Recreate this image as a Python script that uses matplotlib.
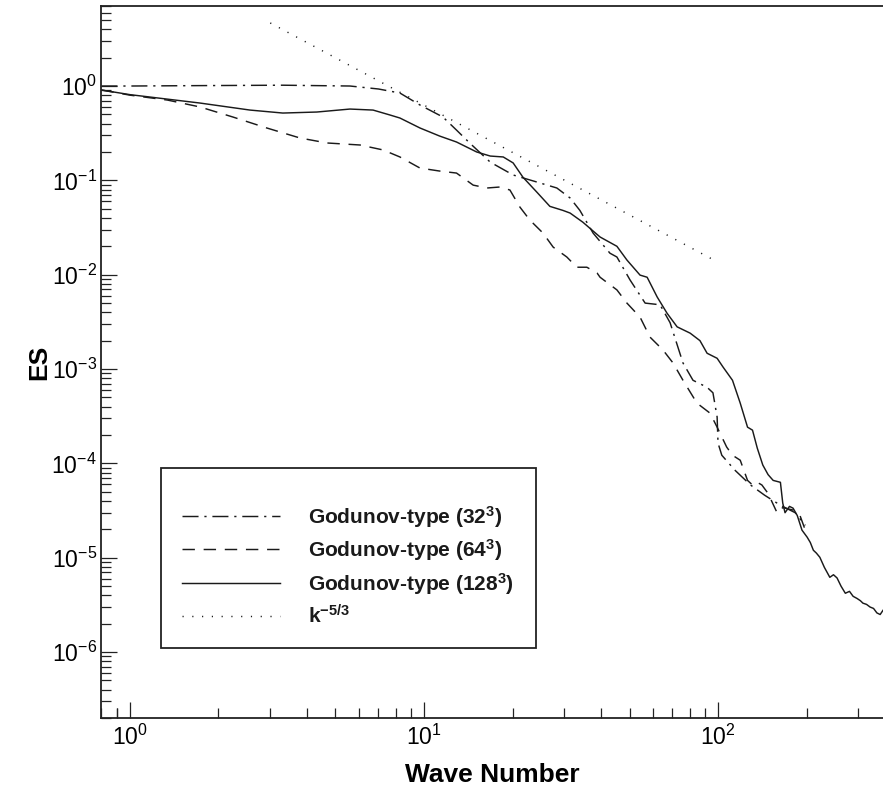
import matplotlib
matplotlib.use("Agg")
import matplotlib.pyplot as plt
from matplotlib.ticker import FixedLocator, FuncFormatter, NullFormatter
from matplotlib.patches import Rectangle
import numpy as np

plt.rcParams['font.family'] = ['Liberation Sans', 'DejaVu Sans']
plt.rcParams['mathtext.fontset'] = 'custom'
plt.rcParams['mathtext.rm'] = 'Liberation Sans'
plt.rcParams['mathtext.it'] = 'Liberation Sans:italic'
plt.rcParams['mathtext.bf'] = 'Liberation Sans:bold'

# ---- data ----
k32 = [0.8, 1.0, 1.73, 3.31, 5.6, 7.0, 8.28, 9.69, 11.6, 12.9, 14.3, 16.8, 20.1, 24.2,
       28.3, 31.4, 33.9, 37.6, 42.9, 45.3, 50.2, 56.5, 63.5, 68.7, 76.0, 82.2, 91.8,
       96.1, 99.3, 100, 103, 114, 129, 144, 163, 183, 198]
E32 = [1.0, 1.0, 1.01, 1.02, 1.0, 0.93, 0.843, 0.629, 0.469, 0.341, 0.249, 0.156, 0.114,
       0.096, 0.083, 0.065, 0.048, 0.0276, 0.0169, 0.0154, 0.0088, 0.0050, 0.0048, 0.0031,
       0.00116, 0.00076, 0.00064, 0.00056, 0.00031, 0.000164, 0.000122, 8.5e-5, 5.9e-5,
       4.6e-5, 3.6e-5, 3.0e-5, 2.2e-5]

k64 = [0.8, 1.0, 1.34, 1.73, 2.24, 2.92, 3.79, 4.68, 6.06, 7.26, 8.28, 9.69, 11.3, 12.9,
       14.7, 16.4, 18.1, 19.6, 21.2, 22.9, 25.4, 27.5, 30.6, 33.1, 35.8, 38.8, 39.7, 45.3,
       49.0, 54.3, 58.7, 65.0, 70.3, 76.0, 84.8, 93.9, 99.3, 107, 112, 119, 126, 131, 136,
       141, 148, 159, 166, 180, 190, 201]
E64 = [0.907, 0.80, 0.71, 0.60, 0.469, 0.359, 0.281, 0.249, 0.237, 0.210, 0.177, 0.135,
       0.1255, 0.1195, 0.089, 0.083, 0.085, 0.079, 0.052, 0.038, 0.0276, 0.0196, 0.0154,
       0.0120, 0.0120, 0.0104, 0.0094, 0.0069, 0.0050, 0.00355, 0.00218, 0.00159, 0.00116,
       0.00076, 0.000435, 0.000341, 0.000242, 0.000149, 0.000122, 0.000108, 6.6e-5, 5.9e-5,
       6.3e-5, 5.9e-5, 4.8e-5, 2.97e-5, 3.4e-5, 3.2e-5, 2.8e-5, 1.73e-5]

k128 = [0.8, 1.0, 1.17, 1.73, 2.56, 3.31, 4.32, 5.6, 6.71, 7.66, 8.28, 9.69, 11.3, 12.9,
        15.1, 16.8, 18.6, 20.1, 21.7, 24.2, 26.8, 29.7, 31.4, 34.7, 39.7, 45.3, 49.0, 54.3,
        57.4, 62.1, 67.1, 72.6, 80.4, 86.8, 91.8, 99.3, 104, 112, 119, 126, 131, 136, 142,
        148, 154, 163, 166, 169, 175, 180, 186, 193, 201, 206, 211, 216, 222, 230, 240, 247,
        254, 262, 271, 280, 288, 297, 305, 311, 320, 329, 338, 347, 356, 364]
E128 = [0.907, 0.81, 0.764, 0.660, 0.556, 0.517, 0.530, 0.570, 0.556, 0.493, 0.458, 0.359,
        0.295, 0.255, 0.200, 0.181, 0.177, 0.153, 0.108, 0.075, 0.053, 0.048, 0.045, 0.036,
        0.0251, 0.020, 0.0143, 0.0099, 0.0094, 0.0058, 0.0039, 0.0028, 0.0024, 0.0020,
        0.00147, 0.0013, 0.00105, 0.00076, 0.000435, 0.000242, 0.000225, 0.000145, 9.6e-5,
        7.6e-5, 6.6e-5, 6.3e-5, 3.8e-5, 3.0e-5, 3.5e-5, 3.35e-5, 2.8e-5, 1.96e-5, 1.65e-5,
        1.45e-5, 1.2e-5, 1.12e-5, 1.01e-5, 7.9e-6, 6.2e-6, 6.6e-6, 6.1e-6, 5.0e-6, 4.2e-6,
        4.4e-6, 3.9e-6, 3.7e-6, 3.5e-6, 3.3e-6, 3.2e-6, 3.0e-6, 2.9e-6, 2.6e-6, 2.5e-6, 2.77e-6]

k_ref = [3.0, 96.0]
E_ref = [4.66, 0.0145]

x_major = [1, 10, 100]
y_major = [1e-6, 1e-5, 1e-4, 1e-3, 1e-2, 1e-1, 1e0]

labels = [r'Godunov-type (32$^{\mathbf{3}}$)', r'Godunov-type (64$^{\mathbf{3}}$)',
          r'Godunov-type (128$^{\mathbf{3}}$)', r'k$^{\mathbf{-5/3}}$']

# ---- figure ----
fig = plt.figure(figsize=(8.83, 7.99), dpi=100)
ax = fig.add_axes([101/883, 1-718/799, 782/883, 712/799])

col = '#1a1a1a'
st_dd = (0, (11, 4, 1.5, 4))
st_da = (0, (8.5, 6))
st_dt = (0, (0.8, 5.9))
lw = 1.05
ax.plot(k32, E32, color=col, lw=lw, linestyle=st_dd)
ax.plot(k64, E64, color=col, lw=lw, linestyle=st_da)
ax.plot(k128, E128, color=col, lw=lw, linestyle='-')
ax.plot(k_ref, E_ref, color=col, lw=lw, linestyle=st_dt)

ax.set_xscale('log')
ax.set_yscale('log')
ax.set_xlim(0.797, 364)
ax.set_ylim(2.0e-7, 7.05)

ax.spines['right'].set_visible(False)
for s in ['left', 'bottom', 'top']:
    ax.spines[s].set_linewidth(1.3)
    ax.spines[s].set_color('#222222')

xmin, xmax = ax.get_xlim()
ymin, ymax = ax.get_ylim()
x_minor = [m * 10.0**d for d in range(-1, 3) for m in range(2, 10)
           if xmin <= m * 10.0**d <= xmax]
y_minor = [m * 10.0**d for d in range(-7, 1) for m in range(2, 10)
           if ymin <= m * 10.0**d <= ymax]

ax.xaxis.set_major_locator(FixedLocator(x_major))
ax.xaxis.set_minor_locator(FixedLocator(x_minor + [0.9]))
ax.yaxis.set_major_locator(FixedLocator(y_major))
ax.yaxis.set_minor_locator(FixedLocator(y_minor))
fmt = FuncFormatter(lambda v, p: r'$\mathregular{10^{%d}}$' % int(round(np.log10(v))))
ax.xaxis.set_major_formatter(fmt)
ax.yaxis.set_major_formatter(fmt)
ax.xaxis.set_minor_formatter(NullFormatter())
ax.yaxis.set_minor_formatter(NullFormatter())

ax.tick_params(which='major', direction='in', length=11.5, width=0.9, labelsize=16.5,
               color='#222222', top=False, right=False)
ax.tick_params(which='minor', direction='in', length=7.2, width=0.9,
               color='#222222', top=False, right=False)
ax.tick_params(axis='x', which='major', pad=5)
ax.tick_params(axis='y', which='major', pad=3)

ax.set_xlabel('Wave Number', fontsize=19, fontweight='bold')
ax.set_ylabel('ES', fontsize=19, fontweight='bold')
ax.xaxis.set_label_coords(0.5, -0.063)
ax.yaxis.set_label_coords(-0.063, 0.5)

# ---- legend box (drawn by hand to match layout) ----
ax.add_patch(Rectangle((0.0767, 0.0983), 0.556-0.0767, 0.351-0.0983, transform=ax.transAxes,
                       fill=True, facecolor='white', edgecolor='#222222', lw=1.3, zorder=5))
row_y = [0.2837, 0.2374, 0.1896, 0.1433]
styles = [st_dd, st_da, '-', st_dt]
for y, s, lab in zip(row_y, styles, labels):
    ax.plot([0.1036, 0.2289], [y, y], transform=ax.transAxes, color=col, lw=lw,
            linestyle=s, zorder=6)
    ax.text(0.2647, y - 0.0105, lab, transform=ax.transAxes, fontsize=15,
            fontweight='bold', va='baseline', ha='left', zorder=6, color='#1a1a1a')

fig.savefig('out.png', dpi=100)
